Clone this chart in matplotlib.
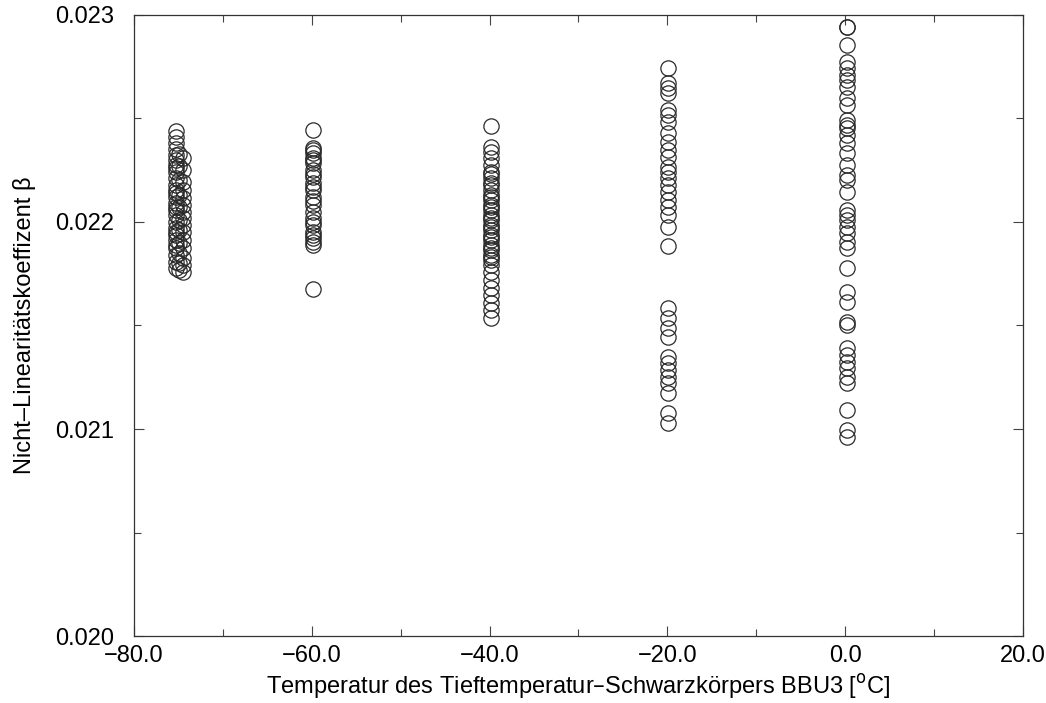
import matplotlib.pyplot as plt
from matplotlib.ticker import MultipleLocator, FuncFormatter

plt.rcParams['font.family'] = ['Liberation Sans', 'DejaVu Sans']

# Nicht-Linearitaetskoeffizient je Temperaturstufe von BBU3
temp_m75a = -75.3
beta_m75a = [0.022440, 0.022411, 0.022382, 0.022324, 0.022300, 0.022275, 0.022242,
             0.022213, 0.022179, 0.022155, 0.022121, 0.022092, 0.022058, 0.022034,
             0.022000, 0.021971, 0.021937, 0.021913, 0.021874, 0.021841, 0.021807,
             0.021778, 0.022350, 0.022260, 0.022140, 0.022070, 0.021950, 0.021890]
temp_m75c = -74.9
beta_m75c = [0.022330, 0.022270, 0.022200, 0.022130, 0.022070, 0.022010, 0.021960,
             0.021900, 0.021850, 0.021800, 0.021770]
temp_m75b = -74.5
beta_m75b = [0.022309, 0.022251, 0.022193, 0.022155, 0.022116, 0.022082, 0.022048,
             0.022019, 0.021986, 0.021952, 0.021913, 0.021874, 0.021826, 0.021792,
             0.021758]
temp_m60 = -59.8
beta_m60 = [0.022444, 0.022357, 0.022333, 0.022309, 0.022285, 0.022251, 0.022217,
            0.022188, 0.022155, 0.022121, 0.022082, 0.022048, 0.022019, 0.021986,
            0.021952, 0.021923, 0.021889, 0.021676, 0.022345, 0.022300, 0.022230,
            0.022170, 0.022100, 0.022000, 0.021935, 0.021905]
temp_m40 = -39.8
beta_m40 = [0.022464, 0.022362, 0.022338, 0.022309, 0.022275, 0.022242, 0.022213,
            0.022179, 0.022155, 0.022130, 0.022106, 0.022082, 0.022058, 0.022034,
            0.022010, 0.021986, 0.021961, 0.021937, 0.021913, 0.021889, 0.021865,
            0.021841, 0.021816, 0.021792, 0.021758, 0.021720, 0.021681, 0.021647,
            0.021609, 0.021575, 0.021536, 0.022230, 0.022190, 0.022120, 0.022070,
            0.022020, 0.021975, 0.021925, 0.021875, 0.021830]
temp_m20 = -19.9
beta_m20 = [0.022744, 0.022671, 0.022647, 0.022623, 0.022541, 0.022517, 0.022483,
            0.022430, 0.022386, 0.022348, 0.022314, 0.022266, 0.022242, 0.022213,
            0.022179, 0.022145, 0.022106, 0.022072, 0.022034, 0.021976, 0.021884,
            0.021585, 0.021536, 0.021488, 0.021444, 0.021348, 0.021319, 0.021285,
            0.021251, 0.021222, 0.021174, 0.021077, 0.021029]
temp_0 = 0.2
beta_0 = [0.022942, 0.022942, 0.022855, 0.022773, 0.022744, 0.022710, 0.022686,
          0.022652, 0.022599, 0.022565, 0.022493, 0.022469, 0.022454, 0.022420,
          0.022382, 0.022333, 0.022275, 0.022227, 0.022203, 0.022145, 0.022058,
          0.022034, 0.022010, 0.021976, 0.021947, 0.021903, 0.021874, 0.021778,
          0.021662, 0.021614, 0.021517, 0.021502, 0.021391, 0.021357, 0.021324,
          0.021295, 0.021251, 0.021222, 0.021092, 0.020995, 0.020961]

groups = [(temp_m75a, beta_m75a), (temp_m75c, beta_m75c), (temp_m75b, beta_m75b),
          (temp_m60, beta_m60), (temp_m40, beta_m40), (temp_m20, beta_m20),
          (temp_0, beta_0)]

fig = plt.figure(figsize=(10.46, 7.03), dpi=100)
ax = fig.add_axes([0.128, 0.095, 0.850, 0.884])

for t, b in groups:
    ax.plot([t] * len(b), b, linestyle='none', marker='o', markersize=11,
            markerfacecolor='none', markeredgecolor='#2a2a2a', markeredgewidth=0.9)

ax.set_xlim(-80, 20)
ax.set_ylim(0.020, 0.023)
ax.xaxis.set_major_locator(MultipleLocator(20))
ax.xaxis.set_minor_locator(MultipleLocator(10))
ax.yaxis.set_major_locator(MultipleLocator(0.001))
ax.yaxis.set_minor_locator(MultipleLocator(0.0005))
ax.xaxis.set_major_formatter(FuncFormatter(lambda v, p: f'{v:.1f}'.replace('-', '\u2212')))
ax.yaxis.set_major_formatter(FuncFormatter(lambda v, p: f'{v:.3f}'))
ax.tick_params(which='both', direction='in', top=True, right=True, labelsize=17,
               color='#444444', width=0.8)
ax.tick_params(which='major', length=7)
ax.tick_params(axis='x', which='major', pad=6)
ax.tick_params(axis='y', which='major', pad=14)
ax.tick_params(which='minor', length=5)
for s in ax.spines.values():
    s.set_linewidth(0.9)
    s.set_color('#333333')

ax.set_xlabel('Temperatur des Tieftemperatur\u2013Schwarzkörpers BBU3 [$^{\\rm o}$C]',
              fontsize=17, labelpad=4)
ax.set_ylabel('Nicht\u2013Linearitätskoeffizent β', fontsize=17, labelpad=14)

fig.savefig('out.png', dpi=100)
